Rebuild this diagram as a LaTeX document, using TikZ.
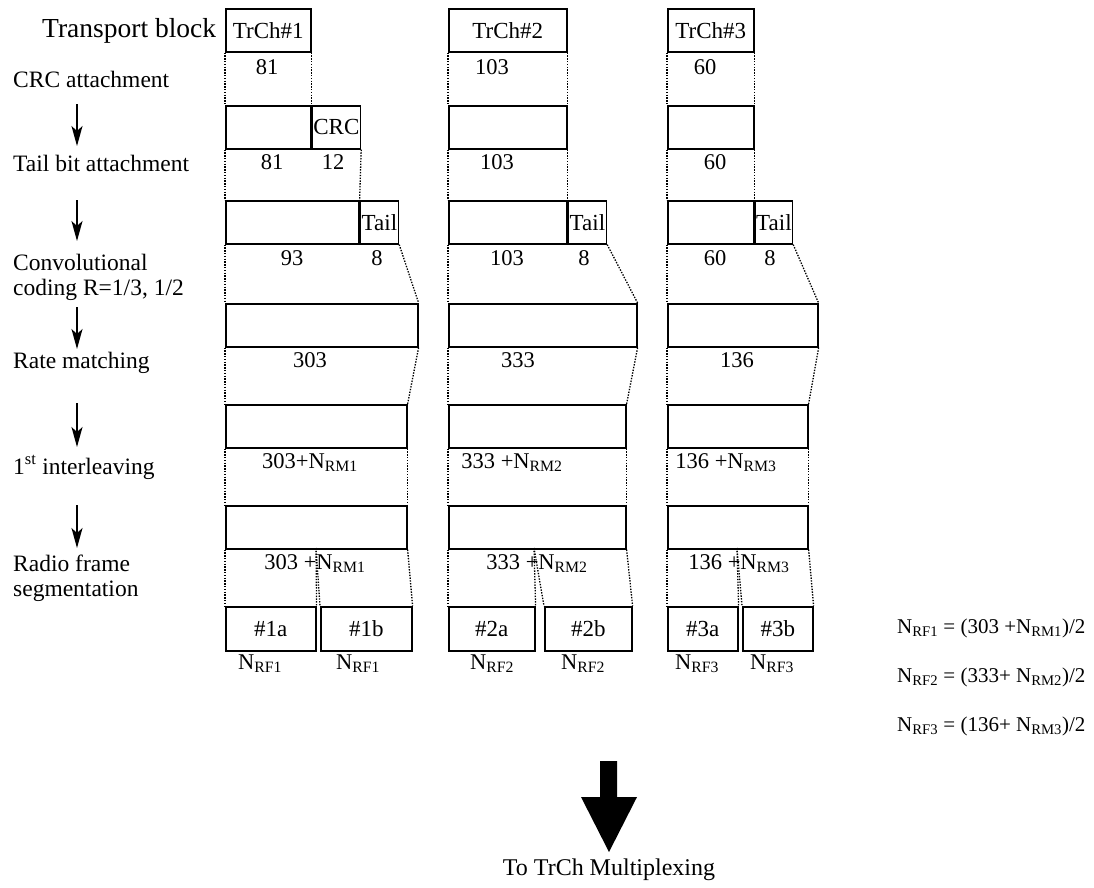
\documentclass[tikz,border=0pt]{standalone}
\usepackage{fontspec}
\setmainfont{Liberation Serif}
\usetikzlibrary{arrows.meta}
\newcommand{\Nsub}[1]{N\textsubscript{#1}}

\begin{document}
\begin{tikzpicture}[x=1pt,y=-1pt,
  blk/.style={draw, line width=1.6pt, anchor=north west, minimum height=43pt, inner sep=0pt, font=\fontsize{23}{26}\selectfont},
  num/.style={anchor=base, inner sep=0pt, font=\fontsize{22.5}{26}\selectfont},
  stage/.style={anchor=base west, inner sep=0pt, align=left, font=\fontsize{23.5}{25}\selectfont},
  guide/.style={dash pattern=on 1.4pt off 1.4pt, line width=1.3pt},
  down/.style={-{Stealth[length=20pt,width=11pt,inset=5pt]}, line width=1.5pt}]
\useasboundingbox (0,0) rectangle (1094,887);

% stage names on the left
\node[stage, font=\fontsize{27.5}{30}\selectfont] (tblock) at (42,37) {Transport block};
\node[stage] (crcatt) at (13,87) {CRC attachment};
\node[stage] (tailatt) at (13,171) {Tail bit attachment};
\node[stage] (conv) at (13,295) {Convolutional\\coding R=1/3, 1/2};
\node[stage] (ratem) at (13,368) {Rate matching};
\node[stage] (inter) at (13,474) {1\textsuperscript{st} interleaving};
\node[stage] (radio) at (13,596) {Radio frame\\segmentation};
\coordinate (a1) at (77,104); \coordinate (b1) at (77,146);
\coordinate (a2) at (77,200); \coordinate (b2) at (77,241);
\coordinate (a3) at (77,307); \coordinate (b3) at (77,349);
\coordinate (a4) at (77,403); \coordinate (b4) at (77,447);
\coordinate (a5) at (77,505); \coordinate (b5) at (77,548);
\draw[down] (a1) -- (b1);
\draw[down] (a2) -- (b2);
\draw[down] (a3) -- (b3);
\draw[down] (a4) -- (b4);
\draw[down] (a5) -- (b5);

% TrCh#1
\node[blk, minimum width=85pt] (trch1) at (225,8) {TrCh\#1};
\node[blk, minimum width=85pt] (crc1) at (225,105) {};
\node[blk, minimum width=48pt] (crcbits1) at (crc1.north east) {CRC};
\node[blk, minimum width=133pt] (tail1) at (225,200) {};
\node[blk, minimum width=38pt] (tailbits1) at (tail1.north east) {Tail};
\node[blk, minimum width=192pt] (enc1) at (225,303) {};
\node[blk, minimum width=181pt] (rm1) at (225,404) {};
\node[blk, minimum width=181pt] (il1) at (225,505) {};
\node[blk, minimum width=90pt, minimum height=44pt] (seg1a) at (225,606) {\#1a};
\node[blk, minimum width=91pt, minimum height=44pt] (seg1b) at (320,606) {\#1b};
\coordinate (split1) at (316,548);
\draw[guide] (trch1.south west) -- (crc1.north west);
\draw[guide] (trch1.south east) -- (crc1.north east);
\draw[guide] (crc1.south west) -- (tail1.north west);
\draw[guide] (crcbits1.south east) -- (tail1.north east);
\draw[guide] (tail1.south west) -- (enc1.north west);
\draw[guide] (tailbits1.south east) -- (enc1.north east);
\draw[guide] (enc1.south west) -- (rm1.north west);
\draw[guide] (enc1.south east) -- (rm1.north east);
\draw[guide] (rm1.south west) -- (il1.north west);
\draw[guide] (rm1.south east) -- (il1.north east);
\draw[guide] (il1.south west) -- (seg1a.north west);
\draw[guide] (split1) -- (seg1a.north east);
\draw[guide] (split1) -- (seg1b.north west);
\draw[guide] (il1.south east) -- (seg1b.north east);
\node[num] (len1a) at (267,74) {81};
\node[num] (len1b) at (272,169) {81};
\node[num] (len1c) at (333,169) {12};
\node[num] (len1d) at (292,265) {93};
\node[num] (len1e) at (377,265) {8};
\node[num] (len1f) at (310,367) {303};
\node[num] (len1g) at (310,468) {303+\Nsub{RM1}};
\node[num] (len1h) at (315,569) {303 +\Nsub{RM1}};
\node[num] (len1i) at (260,669) {\Nsub{RF1}};
\node[num] (len1j) at (358,669) {\Nsub{RF1}};

% TrCh#2
\node[blk, minimum width=118pt] (trch2) at (448,8) {TrCh\#2};
\node[blk, minimum width=118pt] (crc2) at (448,105) {};
\node[blk, minimum width=118pt] (tail2) at (448,200) {};
\node[blk, minimum width=38pt] (tailbits2) at (tail2.north east) {Tail};
\node[blk, minimum width=188pt] (enc2) at (448,303) {};
\node[blk, minimum width=177pt] (rm2) at (448,404) {};
\node[blk, minimum width=177pt] (il2) at (448,505) {};
\node[blk, minimum width=86pt, minimum height=44pt] (seg2a) at (448,606) {\#2a};
\node[blk, minimum width=87pt, minimum height=44pt] (seg2b) at (544,606) {\#2b};
\coordinate (split2) at (534,548);
\draw[guide] (trch2.south west) -- (crc2.north west);
\draw[guide] (trch2.south east) -- (crc2.north east);
\draw[guide] (crc2.south west) -- (tail2.north west);
\draw[guide] (crc2.south east) -- (tail2.north east);
\draw[guide] (tail2.south west) -- (enc2.north west);
\draw[guide] (tailbits2.south east) -- (enc2.north east);
\draw[guide] (enc2.south west) -- (rm2.north west);
\draw[guide] (enc2.south east) -- (rm2.north east);
\draw[guide] (rm2.south west) -- (il2.north west);
\draw[guide] (rm2.south east) -- (il2.north east);
\draw[guide] (il2.south west) -- (seg2a.north west);
\draw[guide] (split2) -- (seg2a.north east);
\draw[guide] (split2) -- (seg2b.north west);
\draw[guide] (il2.south east) -- (seg2b.north east);
\node[num] (len2a) at (492,74) {103};
\node[num] (len2b) at (497,169) {103};
\node[num] (len2c) at (507,265) {103};
\node[num] (len2d) at (584,265) {8};
\node[num] (len2e) at (518,367) {333};
\node[num] (len2f) at (512,468) {333 +\Nsub{RM2}};
\node[num] (len2g) at (537,569) {333 +\Nsub{RM2}};
\node[num] (len2h) at (492,669) {\Nsub{RF2}};
\node[num] (len2i) at (583,669) {\Nsub{RF2}};

% TrCh#3
\node[blk, minimum width=86pt] (trch3) at (667,8) {TrCh\#3};
\node[blk, minimum width=86pt] (crc3) at (667,105) {};
\node[blk, minimum width=86pt] (tail3) at (667,200) {};
\node[blk, minimum width=37pt] (tailbits3) at (tail3.north east) {Tail};
\node[blk, minimum width=150pt] (enc3) at (667,303) {};
\node[blk, minimum width=140pt] (rm3) at (667,404) {};
\node[blk, minimum width=140pt] (il3) at (667,505) {};
\node[blk, minimum width=70pt, minimum height=44pt] (seg3a) at (667,606) {\#3a};
\node[blk, minimum width=70pt, minimum height=44pt] (seg3b) at (742,606) {\#3b};
\coordinate (split3) at (737,548);
\draw[guide] (trch3.south west) -- (crc3.north west);
\draw[guide] (trch3.south east) -- (crc3.north east);
\draw[guide] (crc3.south west) -- (tail3.north west);
\draw[guide] (crc3.south east) -- (tail3.north east);
\draw[guide] (tail3.south west) -- (enc3.north west);
\draw[guide] (tailbits3.south east) -- (enc3.north east);
\draw[guide] (enc3.south west) -- (rm3.north west);
\draw[guide] (enc3.south east) -- (rm3.north east);
\draw[guide] (rm3.south west) -- (il3.north west);
\draw[guide] (rm3.south east) -- (il3.north east);
\draw[guide] (il3.south west) -- (seg3a.north west);
\draw[guide] (split3) -- (seg3a.north east);
\draw[guide] (split3) -- (seg3b.north west);
\draw[guide] (il3.south east) -- (seg3b.north east);
\node[num] (len3a) at (705,74) {60};
\node[num] (len3b) at (715,169) {60};
\node[num] (len3c) at (715,265) {60};
\node[num] (len3d) at (770,265) {8};
\node[num] (len3e) at (737,367) {136};
\node[num] (len3f) at (726,468) {136 +\Nsub{RM3}};
\node[num] (len3g) at (739,569) {136 +\Nsub{RM3}};
\node[num] (len3h) at (697,669) {\Nsub{RF3}};
\node[num] (len3i) at (772,669) {\Nsub{RF3}};

% segment sizes
\node[num, anchor=base west, font=\fontsize{21}{24}\selectfont] (nrf1) at (897,633) {\Nsub{RF1} = (303 +\Nsub{RM1})/2};
\node[num, anchor=base west, font=\fontsize{21}{24}\selectfont] (nrf2) at (897,682) {\Nsub{RF2} = (333+ \Nsub{RM2})/2};
\node[num, anchor=base west, font=\fontsize{21}{24}\selectfont] (nrf3) at (897,731) {\Nsub{RF3} = (136+ \Nsub{RM3})/2};

% on to multiplexing
\fill (600,761) -- (617,761) -- (617,797) -- (637,797) -- (609,852) -- (581,797) -- (600,797) -- cycle;
\node[num, font=\fontsize{24}{28}\selectfont] (mux) at (609,875) {To TrCh Multiplexing};
\end{tikzpicture}
\end{document}
